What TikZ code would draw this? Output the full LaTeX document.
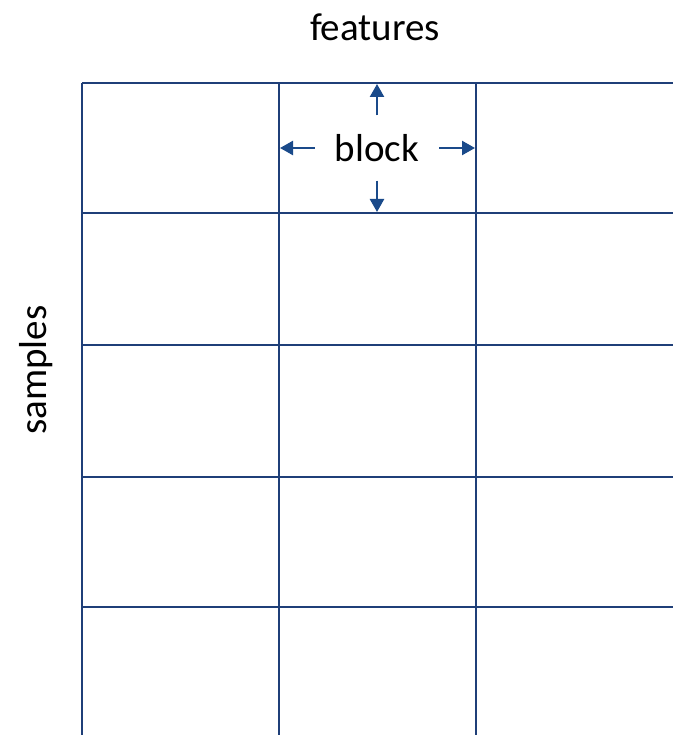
\documentclass[tikz,border=0pt]{standalone}
\usepackage{fontspec}
\setmainfont{Carlito}
\usetikzlibrary{arrows.meta}
\definecolor{gridblue}{HTML}{1F3F78}
\definecolor{arrowblue}{HTML}{1A4A8A}
\tikzset{
  gridline/.style={draw=gridblue, line width=2.5pt},
  dimarrow/.style={draw=arrowblue, line width=2.4pt, -{Triangle[length=13pt,width=14pt]}},
  label/.style={font=\fontsize{39}{47}\selectfont, inner sep=0pt}
}
\begin{document}
\begin{tikzpicture}[x=1pt,y=-1pt]
\useasboundingbox (0,0) rectangle (673,735);
% grid
\foreach \x in {82,279,476} \draw[gridline] (\x,83) -- (\x,735);
\foreach \y in {83,213,345,477,607} \draw[gridline] (82,\y) -- (673,\y);
% labels
\node[label] (features) at (375,27) {features};
\node[label, rotate=90] (samples) at (36,370) {samples};
\node[label, minimum width=124pt, minimum height=65pt] (block) at (377,148) {block};
% cell edges
\coordinate (ctop) at (377,84);
\coordinate (cbot) at (377,212);
\coordinate (cleft) at (280,148);
\coordinate (cright) at (475,148);
\draw[dimarrow] (block.north) -- (ctop);
\draw[dimarrow] (block.south) -- (cbot);
\draw[dimarrow] (block.west) -- (cleft);
\draw[dimarrow] (block.east) -- (cright);
\end{tikzpicture}
\end{document}
